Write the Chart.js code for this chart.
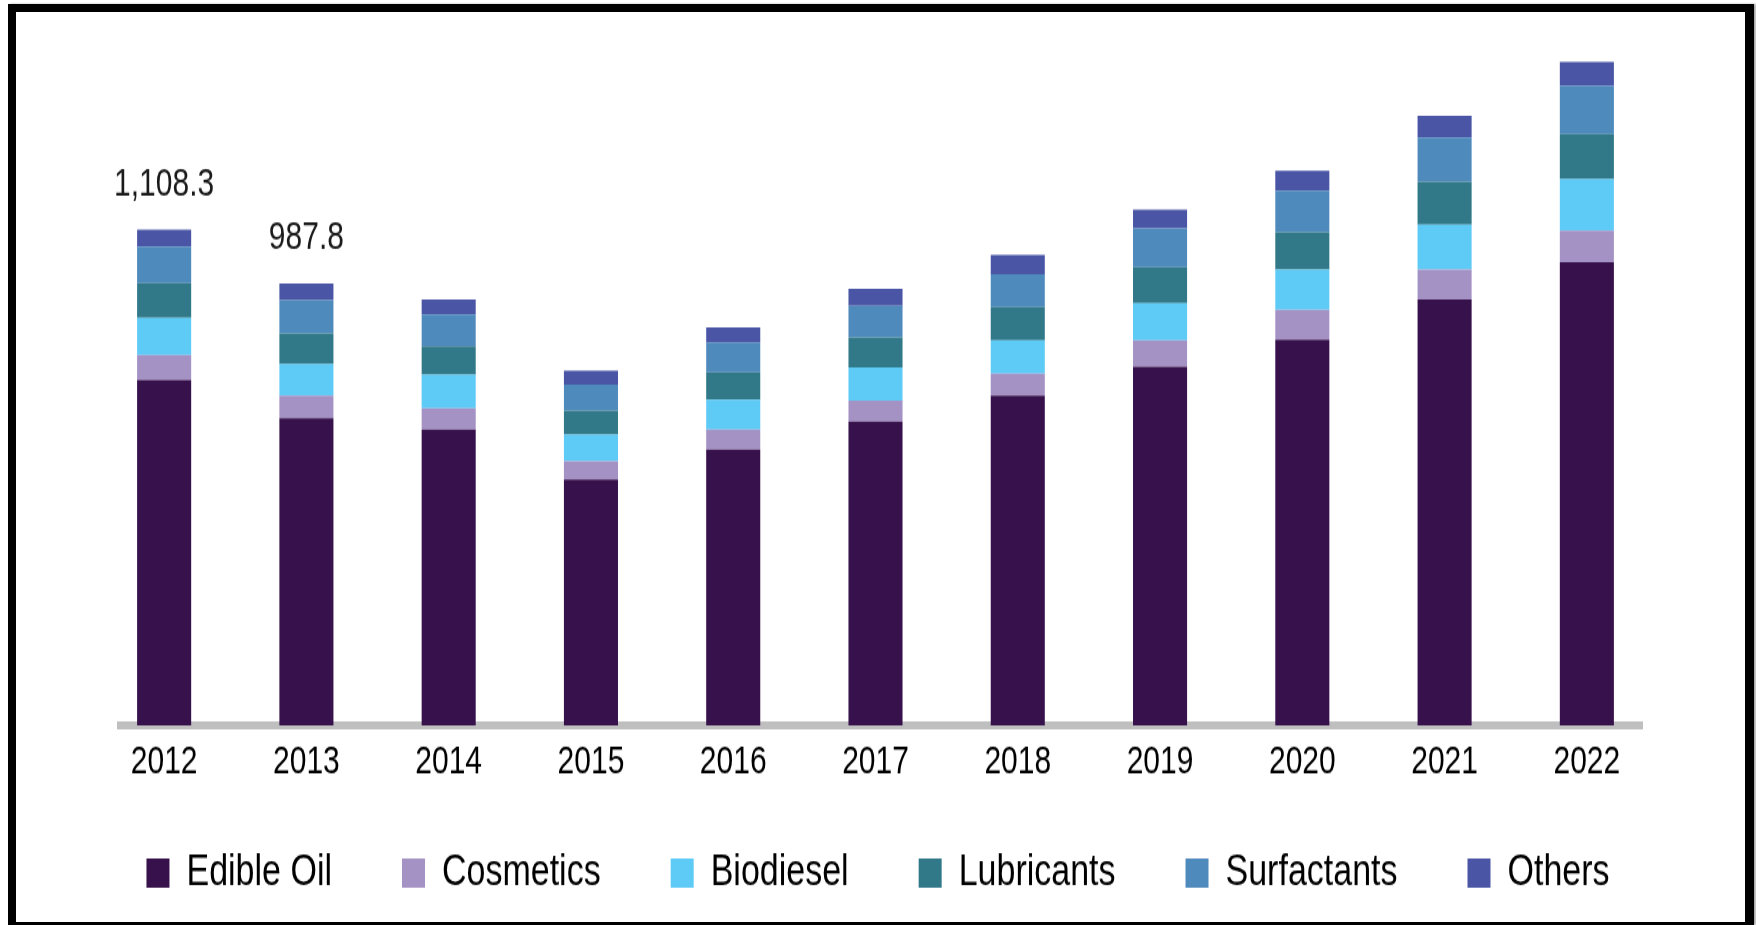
<!DOCTYPE html>
<html>
<head>
<meta charset="utf-8">
<script src="https://cdn.jsdelivr.net/npm/chart.js@4"></script>
<style>
  html, body { margin: 0; padding: 0; background: #fff; }
  body { width: 1756px; height: 925px; position: relative; overflow: hidden; }
  #c { position: absolute; left: 0; top: 0; width: 1756px; height: 925px; }
  #frame {
    position: absolute; left: 8px; top: 4px; width: 1746px; height: 921px;
    box-sizing: border-box;
    border-left: 8px solid #000; border-top: 8px solid #000;
    border-right: 9px solid #000; border-bottom: 3px solid #000;
    box-shadow: 2px 0 2px rgba(0,0,0,0.35);
    pointer-events: none;
  }
</style>
</head>
<body>
<canvas id="c" width="1756" height="695" style="width:1756px;height:925px;"></canvas>
<div id="frame"></div>
<script>
const categories = ['2012', '2013', '2014', '2015', '2016', '2017', '2018', '2019', '2020', '2021', '2022'];
const edibleOil   = [772.4, 686.5, 661.6, 549.8, 616.9, 679.4, 737.6, 802.4, 862.7, 952.1, 1035.5];
const cosmetics   = [56.0, 51.1, 47.6, 40.9, 44.7, 46.9, 48.5, 58.1, 66.4, 67.0, 70.8];
const biodiesel   = [82.8, 70.4, 75.3, 59.7, 67.1, 74.4, 74.4, 83.4, 90.1, 100.6, 115.5];
const lubricants  = [77.7, 68.8, 62.6, 53.6, 61.0, 67.0, 74.4, 80.5, 83.4, 96.1, 100.6];
const surfactants = [82.0, 73.9, 71.5, 58.1, 66.4, 70.8, 74.4, 87.2, 93.2, 99.0, 108.0];
const others      = [37.4, 37.1, 33.5, 31.3, 33.5, 38.0, 43.1, 41.8, 44.7, 48.5, 53.6];
const totalLabels = ['1,108.3', '987.8', '', '', '', '', '', '', '', '', ''];

const FONT = '"Liberation Sans", Arial, sans-serif';

const axisLinePlugin = {
  id: 'axisLine',
  beforeDatasetsDraw(chart) {
    const { ctx, chartArea } = chart;
    ctx.save();
    ctx.fillStyle = '#bfbfbf';
    const x0 = chartArea.left + 24, x1 = chartArea.right - 15;
    ctx.fillRect(x0, chartArea.bottom - 3, x1 - x0, 6);
    ctx.restore();
  }
};

const totalsPlugin = {
  id: 'totals',
  afterDatasetsDraw(chart) {
    const { ctx } = chart;
    const meta = chart.getDatasetMeta(chart.data.datasets.length - 1);
    ctx.save();
    ctx.font = '30px ' + FONT;
    ctx.fillStyle = '#1a1a1a';
    ctx.textAlign = 'center';
    ctx.textBaseline = 'middle';
    meta.data.forEach((bar, i) => {
      if (totalLabels[i]) ctx.fillText(totalLabels[i], bar.x, bar.y - 34);
    });
    ctx.restore();
  }
};

const hiddenAxis = (w, pos) => ({
  position: pos,
  display: true,
  ticks: { display: false },
  grid: { display: false, drawTicks: false },
  border: { display: false },
  afterFit(s) { s.width = w; }
});

new Chart(document.getElementById('c'), {
  type: 'bar',
  data: {
    labels: categories,
    datasets: [
      { label: 'Edible Oil',  data: edibleOil,   backgroundColor: '#37114b' },
      { label: 'Cosmetics',   data: cosmetics,   backgroundColor: '#a592c5' },
      { label: 'Biodiesel',   data: biodiesel,   backgroundColor: '#5ecaf6' },
      { label: 'Lubricants',  data: lubricants,  backgroundColor: '#317888' },
      { label: 'Surfactants', data: surfactants, backgroundColor: '#4f8abd' },
      { label: 'Others',      data: others,      backgroundColor: '#4a56a5' }
    ]
  },
  options: {
    responsive: false,
    devicePixelRatio: 1,
    animation: false,
    layout: { padding: { top: 41, bottom: 12, left: 0, right: 0 } },
    datasets: { bar: { categoryPercentage: 1.0, barPercentage: 0.38, borderWidth: 0 } },
    scales: {
      x: {
        stacked: true,
        offset: true,
        grid: { display: false, drawTicks: false },
        border: { display: false },
        ticks: { color: '#000', font: { family: FONT, size: 30 }, padding: -46, maxRotation: 0, mirror: true },
        afterFit(s) { s.height = 24; }
      },
      y: Object.assign(hiddenAxis(93, 'left'), { stacked: true, min: 0, max: 1500 }),
      y2: hiddenAxis(98, 'right')
    },
    plugins: {
      legend: {
        position: 'bottom',
        labels: {
          color: '#000',
          font: { family: FONT, size: 34 },
          boxWidth: 23,
          boxHeight: 22,
          padding: 70
        }
      },
      tooltip: { enabled: false }
    }
  },
  plugins: [axisLinePlugin, totalsPlugin]
});
</script>
</body>
</html>
